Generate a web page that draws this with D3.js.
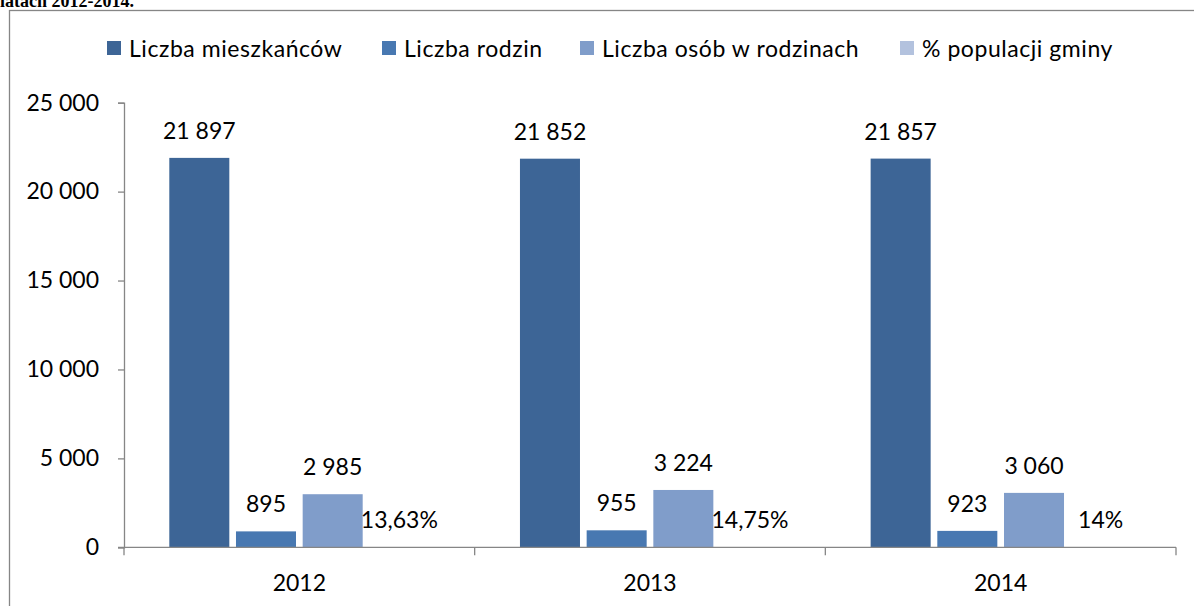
<!DOCTYPE html>
<html>
<head>
<meta charset="utf-8">
<script src="https://cdn.jsdelivr.net/npm/d3@7"></script>
<style>
  body { margin: 0; background: #fff; }
  svg { display: block; }
  text { font-family: Lato, 'Open Sans', sans-serif; fill: #000; }
</style>
</head>
<body>
<svg id="chart" width="1194" height="606"></svg>
<script>
// data
var years = ['2012', '2013', '2014'];
var seriesNames = ['Liczba mieszkańców', 'Liczba rodzin', 'Liczba osób w rodzinach', '% populacji gminy'];
var mieszkancy = [21897, 21852, 21857];
var rodziny = [895, 955, 923];
var osobyWRodzinach = [2985, 3224, 3060];
var procentPopulacji = [13.63, 14.75, 14];
var procentLabels = ['13,63%', '14,75%', '14%'];
var yTicks = [0, 5000, 10000, 15000, 20000, 25000];
var colors = ['#3d6596', '#4878b1', '#809dca', '#b3c2de'];
var legendX = [107, 382, 580, 900];

var svg = d3.select('#chart');
var axisColor = '#868686';
var labelSize = '23px';

var margin = { top: 102.7, left: 124, right: 1176, bottom: 547.3 };

// caption line above the chart frame, cut by the top edge as in the source
svg.append('text')
  .attr('x', 0)
  .attr('y', 6.5)
  .style('font-family', "'Liberation Serif', 'DejaVu Serif', serif")
  .style('font-weight', 'bold')
  .style('font-size', '18px')
  .text('latach 2012-2014.');

// chart frame (right and bottom edges fall outside the picture)
svg.append('rect')
  .attr('x', 9.5)
  .attr('y', 10.5)
  .attr('width', 1220)
  .attr('height', 620)
  .attr('fill', 'none')
  .attr('stroke', axisColor)
  .attr('stroke-width', 1.3);

var x = d3.scaleBand()
  .domain(years)
  .range([margin.left, margin.right]);

var xInner = d3.scaleBand()
  .domain(d3.range(seriesNames.length))
  .range([45.3, x.bandwidth() - 45.3])
  .paddingInner(0.1)
  .paddingOuter(0);

var y = d3.scaleLinear()
  .domain([0, 25000])
  .range([margin.bottom, margin.top]);

var fmt = function(v) {
  return d3.format(',')(v).replace(/,/g, ' ');
};

// y axis
var yAxis = svg.append('g')
  .attr('transform', 'translate(' + margin.left + ',0)')
  .call(d3.axisLeft(y).tickValues(yTicks).tickSize(6).tickPadding(19).tickFormat(fmt));
yAxis.select('.domain').attr('stroke', axisColor).attr('stroke-width', 1.3);
yAxis.selectAll('.tick line').attr('stroke', axisColor).attr('stroke-width', 1.3);
yAxis.selectAll('.tick text')
  .style('font-family', "Lato, 'Open Sans', sans-serif")
  .style('font-size', labelSize)
  .attr('fill', '#000');

// build rows per year
var rows = years.map(function(yr, i) {
  return {
    year: yr,
    values: [
      { s: 0, v: mieszkancy[i], label: fmt(mieszkancy[i]) },
      { s: 1, v: rodziny[i], label: fmt(rodziny[i]) },
      { s: 2, v: osobyWRodzinach[i], label: fmt(osobyWRodzinach[i]) },
      { s: 3, v: procentPopulacji[i], label: procentLabels[i] }
    ]
  };
});

var groups = svg.selectAll('.bar-group')
  .data(rows)
  .enter().append('g')
  .attr('class', 'bar-group')
  .attr('transform', function(d) { return 'translate(' + x(d.year) + ',0)'; });

groups.selectAll('.bar')
  .data(function(d) { return d.values; })
  .enter().append('rect')
  .attr('class', 'bar')
  .attr('x', function(d) { return xInner(d.s); })
  .attr('y', function(d) { return y(d.v); })
  .attr('width', xInner.bandwidth())
  .attr('height', function(d) { return y(0) - y(d.v); })
  .attr('fill', function(d) { return colors[d.s]; });

groups.selectAll('.bar-label')
  .data(function(d) { return d.values; })
  .enter().append('text')
  .attr('class', 'bar-label')
  .attr('x', function(d) { return xInner(d.s) + xInner.bandwidth() / 2; })
  .attr('y', function(d) { return y(d.v) - 19; })
  .attr('text-anchor', 'middle')
  .style('font-size', labelSize)
  .text(function(d) { return d.label; });

// x axis
svg.append('line')
  .attr('x1', margin.left - 6)
  .attr('x2', margin.right)
  .attr('y1', y(0))
  .attr('y2', y(0))
  .attr('stroke', axisColor)
  .attr('stroke-width', 1.3);

var boundaries = years.map(function(d) { return x(d); }).concat([margin.right]);
svg.selectAll('.x-tick')
  .data(boundaries)
  .enter().append('line')
  .attr('class', 'x-tick')
  .attr('x1', function(d) { return d; })
  .attr('x2', function(d) { return d; })
  .attr('y1', y(0))
  .attr('y2', y(0) + 8)
  .attr('stroke', axisColor)
  .attr('stroke-width', 1.3);

svg.selectAll('.x-label')
  .data(years)
  .enter().append('text')
  .attr('class', 'x-label')
  .attr('x', function(d) { return x(d) + x.bandwidth() / 2; })
  .attr('y', 591)
  .attr('text-anchor', 'middle')
  .style('font-size', labelSize)
  .text(function(d) { return d; });

// legend
var legend = svg.selectAll('.legend-item')
  .data(seriesNames)
  .enter().append('g')
  .attr('class', 'legend-item')
  .attr('transform', function(d, i) { return 'translate(' + legendX[i] + ',41)'; });

legend.append('rect')
  .attr('width', 14)
  .attr('height', 14)
  .attr('fill', function(d, i) { return colors[i]; });

legend.append('text')
  .attr('x', 22)
  .attr('y', 15.5)
  .style('font-size', '23px')
  .style('letter-spacing', '0.55px')
  .text(function(d) { return d; });
</script>
</body>
</html>
